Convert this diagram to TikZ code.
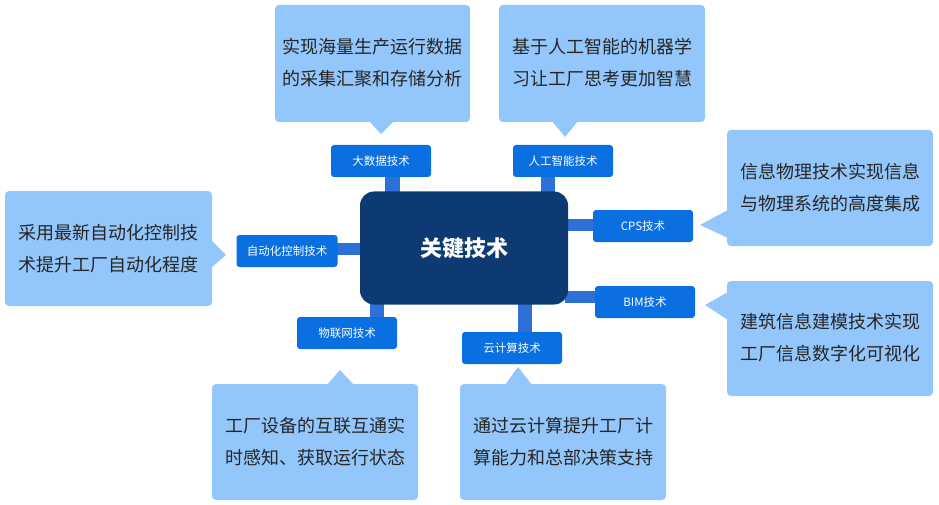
\documentclass[tikz,border=0pt]{standalone}
\usepackage{fontspec}
\setmainfont{Noto Sans CJK SC}
\begin{document}
\begin{tikzpicture}[x=1pt,y=-1pt,
  callout/.style={fill=cb,rounded corners=4pt},
  ctext/.style={align=center,font=\fontsize{18}{32}\selectfont,text=black!85},
  lbl/.style={fill=lb,rounded corners=3pt,text=white,font=\fontsize{11.5}{14}\selectfont,minimum width=100pt,minimum height=32pt,inner sep=0pt},
  bar/.style={fill=br}]
\definecolor{cb}{HTML}{93C6FA}
\definecolor{lb}{HTML}{0A6FE0}
\definecolor{br}{HTML}{2D70D8}
\definecolor{cn}{HTML}{0D3A73}
\useasboundingbox (0,0) rectangle (939,505);
% bars
\fill[bar] (385,170) rectangle (400,195);
\fill[bar] (541,170) rectangle (555,195);
\fill[bar] (565,219) rectangle (597,231);
\fill[bar] (565,291) rectangle (599,303);
\fill[bar] (518,300) rectangle (532,336);
\fill[bar] (370,300) rectangle (384,320);
\fill[bar] (334,243) rectangle (365,255);
% center
\node[fill=cn,rounded corners=14pt,minimum width=208pt,minimum height=113pt,text=white,font=\fontsize{22}{26}\selectfont\bfseries] (c) at (464,248) {关键技术};
% labels
\node[lbl] (l1) at (381,161) {大数据技术};
\node[lbl] (l2) at (563,161) {人工智能技术};
\node[lbl] (l3) at (643,226) {CPS技术};
\node[lbl] (l4) at (645,302) {BIM技术};
\node[lbl] (l5) at (512,348) {云计算技术};
\node[lbl] (l6) at (347,333) {物联网技术};
\node[lbl,minimum width=101pt] (l7) at (287,251) {自动化控制技术};
% callouts
\fill[callout] (275,5) rectangle (470,122); \fill[cb] (369,121)--(394,121)--(381,134)--cycle;
\node[ctext] (t1) at (372,63) {实现海量生产运行数据\\的采集汇聚和存储分析};
\fill[callout] (499,5) rectangle (705,122); \fill[cb] (552,121)--(578,121)--(565,137)--cycle;
\node[ctext] (t2) at (602,63) {基于人工智能的机器学\\习让工厂思考更加智慧};
\fill[callout] (727,130) rectangle (933,246); \fill[cb] (728,210)--(728,238)--(700,225)--cycle;
\node[ctext] (t3) at (830,188) {信息物理技术实现信息\\与物理系统的高度集成};
\fill[callout] (727,281) rectangle (933,396); \fill[cb] (728,292)--(728,320)--(705,305)--cycle;
\node[ctext] (t4) at (830,338) {建筑信息建模技术实现\\工厂信息数字化可视化};
\fill[callout] (212,384) rectangle (418,500); \fill[cb] (327,385)--(354,385)--(340,370)--cycle;
\node[ctext] (t5) at (315,442) {工厂设备的互联互通实\\时感知、获取运行状态};
\fill[callout] (460,384) rectangle (666,500); \fill[cb] (505,385)--(532,385)--(518,367)--cycle;
\node[ctext] (t6) at (563,442) {通过云计算提升工厂计\\算能力和总部决策支持};
\fill[callout] (5,191) rectangle (212,306); \fill[cb] (211,240)--(211,268)--(226,255)--cycle;
\node[ctext] (t7) at (108,249) {采用最新自动化控制技\\术提升工厂自动化程度};
\end{tikzpicture}
\end{document}
